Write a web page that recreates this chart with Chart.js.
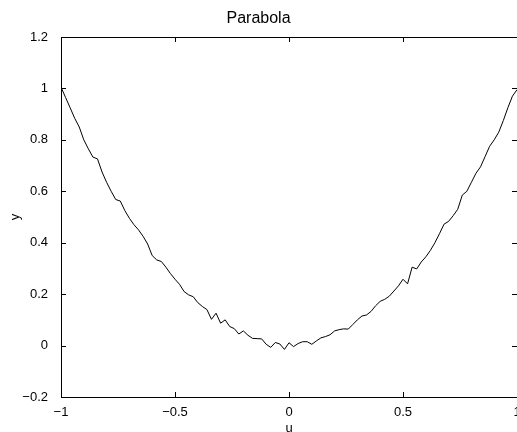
<!DOCTYPE html>
<html>
<head>
<meta charset="utf-8">
<script src="https://cdn.jsdelivr.net/npm/chart.js@4.4.1/dist/chart.umd.min.js"></script>
<style>
  html, body { margin: 0; padding: 0; background: #fff; }
</style>
</head>
<body>
<canvas id="parabolaChart" width="517" height="432"></canvas>
<script>
const uValues = [
  -1, -0.98, -0.96, -0.94, -0.92, -0.9, -0.88, -0.86, -0.84, -0.82,
  -0.8, -0.78, -0.76, -0.74, -0.72, -0.7, -0.68, -0.66, -0.64, -0.62,
  -0.6, -0.58, -0.56, -0.54, -0.52, -0.5, -0.48, -0.46, -0.44, -0.42,
  -0.4, -0.38, -0.36, -0.34, -0.32, -0.3, -0.28, -0.26, -0.24, -0.22,
  -0.2, -0.18, -0.16, -0.14, -0.12, -0.1, -0.08, -0.06, -0.04, -0.02,
  0, 0.02, 0.04, 0.06, 0.08, 0.1, 0.12, 0.14, 0.16, 0.18,
  0.2, 0.22, 0.24, 0.26, 0.28, 0.3, 0.32, 0.34, 0.36, 0.38,
  0.4, 0.42, 0.44, 0.46, 0.48, 0.5, 0.52, 0.54, 0.56, 0.58,
  0.6, 0.62, 0.64, 0.66, 0.68, 0.7, 0.72, 0.74, 0.76, 0.78,
  0.8, 0.82, 0.84, 0.86, 0.88, 0.9, 0.92, 0.94, 0.96, 0.98,
  1
];
const yValues = [
  1.005, 0.965, 0.925, 0.884, 0.85, 0.80, 0.765, 0.733, 0.726, 0.675,
  0.635, 0.60, 0.568, 0.562, 0.525, 0.495, 0.47, 0.45, 0.425, 0.395,
  0.35, 0.333, 0.327, 0.305, 0.28, 0.258, 0.238, 0.21, 0.197, 0.19,
  0.167, 0.152, 0.14, 0.102, 0.126, 0.087, 0.10, 0.074, 0.066, 0.045,
  0.057, 0.04, 0.028, 0.027, 0.026, 0.005, -0.007, 0.012, 0.006, -0.015,
  0.011, -0.004, 0.008, 0.015, 0.015, 0.005, 0.018, 0.03, 0.035, 0.042,
  0.057, 0.062, 0.065, 0.064, 0.082, 0.10, 0.115, 0.119, 0.133, 0.155,
  0.172, 0.18, 0.192, 0.212, 0.232, 0.258, 0.24, 0.305, 0.298, 0.325,
  0.345, 0.37, 0.40, 0.435, 0.472, 0.483, 0.505, 0.53, 0.585, 0.60,
  0.635, 0.67, 0.695, 0.735, 0.775, 0.80, 0.83, 0.875, 0.925, 0.97,
  0.995
];
const xTicks = [-1, -0.5, 0, 0.5, 1];
const yTicks = [-0.2, 0, 0.2, 0.4, 0.6, 0.8, 1, 1.2];

Chart.defaults.font.family = '"Liberation Sans", Arial, Helvetica, sans-serif';
Chart.defaults.color = '#000';

// matlab style minus sign
function fmt(v) {
  return String(Math.round(v * 10) / 10).replace('-', '\u2212');
}

// box round the axes with inward ticks on every side
const boxFrame = {
  id: 'boxFrame',
  afterDatasetsDraw(chart) {
    const { ctx, chartArea: a, scales: { x, y } } = chart;
    const len = 5;
    ctx.save();
    ctx.strokeStyle = '#000';
    ctx.lineWidth = 1;
    ctx.beginPath();
    ctx.rect(a.left + 0.5, a.top + 0.5, a.right - a.left, a.bottom - a.top);
    xTicks.forEach(v => {
      const px = Math.round(x.getPixelForValue(v)) + 0.5;
      ctx.moveTo(px, a.bottom); ctx.lineTo(px, a.bottom - len);
      ctx.moveTo(px, a.top); ctx.lineTo(px, a.top + len);
    });
    yTicks.forEach(v => {
      const py = Math.round(y.getPixelForValue(v)) + 0.5;
      ctx.moveTo(a.left, py); ctx.lineTo(a.left + len, py);
      ctx.moveTo(a.right, py); ctx.lineTo(a.right - len, py);
    });
    ctx.stroke();
    ctx.restore();
  }
};

const ctx = document.getElementById('parabolaChart').getContext('2d');
new Chart(ctx, {
  type: 'scatter',
  data: {
    datasets: [{
      data: uValues.map((u, i) => ({ x: u, y: yValues[i] })),
      showLine: true,
      borderColor: '#000',
      borderWidth: 1,
      pointRadius: 0,
      tension: 0
    }]
  },
  options: {
    responsive: false,
    animation: false,
    devicePixelRatio: 1,
    layout: { padding: 0 },
    plugins: {
      legend: { display: false },
      tooltip: { enabled: false },
      title: {
        display: true,
        text: 'Parabola',
        color: '#000',
        font: { size: 16, weight: 'normal' },
        padding: { top: 9.4, bottom: 8.4 }
      }
    },
    scales: {
      x: {
        type: 'linear',
        min: -1,
        max: 1,
        grid: { display: false },
        border: { display: false },
        afterBuildTicks: s => { s.ticks = xTicks.map(v => ({ value: v })); },
        afterFit: s => { s.height = 35; s.paddingLeft = 0; s.paddingRight = 0; },
        ticks: { padding: 0, font: { size: 13 }, maxRotation: 0, callback: v => fmt(v) },
        title: { display: true, text: 'u', font: { size: 13 }, padding: { top: 0, bottom: -4 } }
      },
      y: {
        type: 'linear',
        min: -0.2,
        max: 1.2,
        grid: { display: false },
        border: { display: false },
        afterBuildTicks: s => { s.ticks = yTicks.map(v => ({ value: v })); },
        afterFit: s => { s.width = 61; s.paddingTop = 0; s.paddingBottom = 0; },
        ticks: { padding: 5, font: { size: 13 }, callback: v => fmt(v) },
        title: { display: true, text: 'y', font: { size: 13 }, padding: { top: 8, bottom: 0 } }
      }
    }
  },
  plugins: [boxFrame]
});
</script>
</body>
</html>
